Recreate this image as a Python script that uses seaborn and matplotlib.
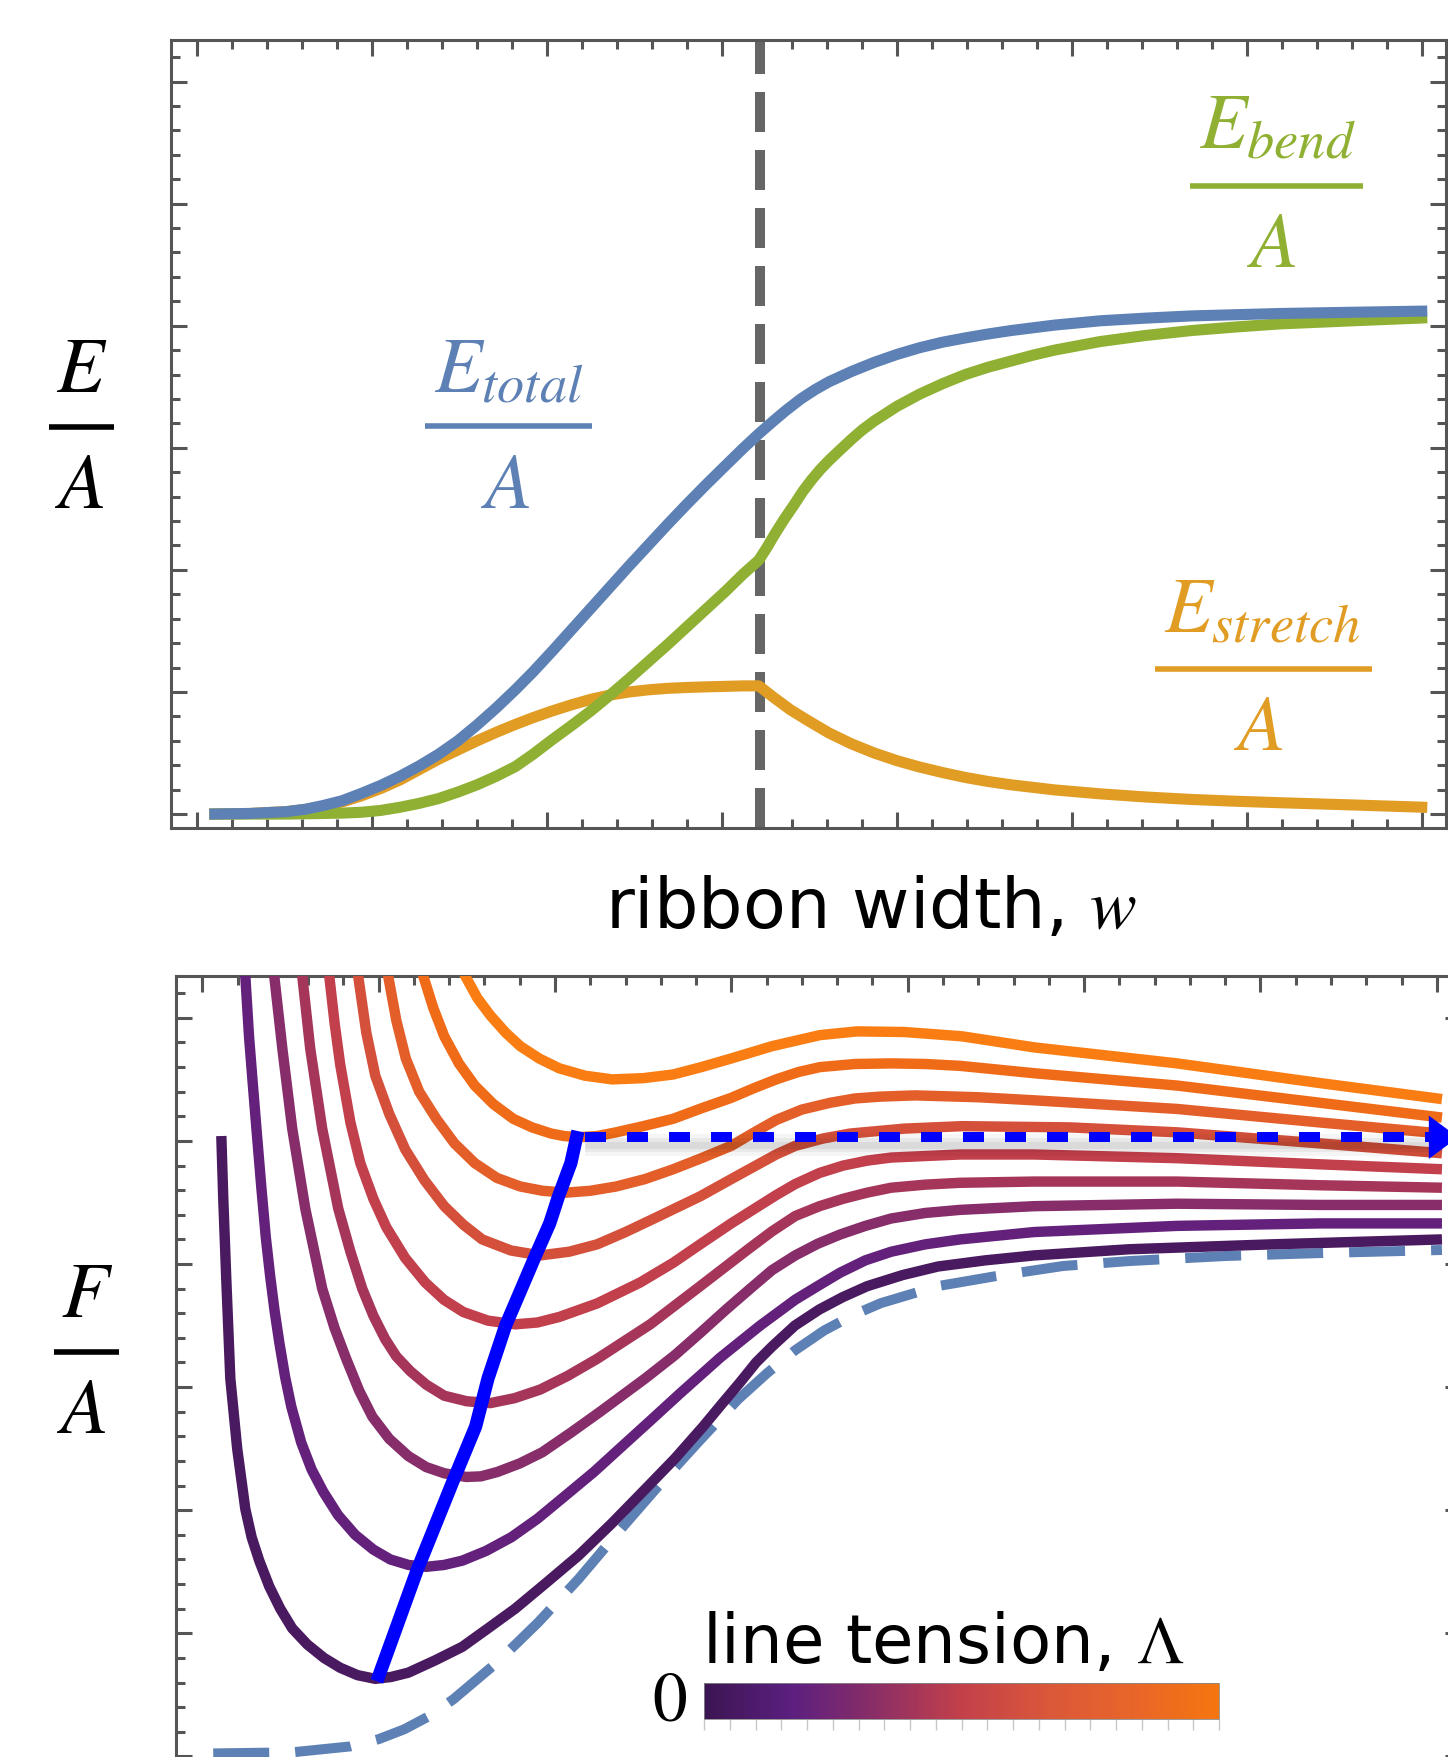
import numpy as np
import matplotlib
matplotlib.use("Agg")
import matplotlib.pyplot as plt
import matplotlib as mpl
import seaborn as sns
from matplotlib.lines import Line2D
from matplotlib.colors import LinearSegmentedColormap, Normalize

sns.set_theme(style="white")
plt.rcParams["font.family"] = ["DejaVu Sans"]
plt.rcParams["mathtext.fontset"] = "stix"
plt.rcParams["text.color"] = "black"

# ---------------- top panel data (ribbon width w, energy per area) ----------------
w_total = [0.07, 0.30, 0.51, 0.62, 0.72, 0.83, 0.94, 1.05, 1.16, 1.27, 1.38, 1.49, 1.60, 1.71,
           1.82, 1.92, 2.03, 2.14, 2.25, 2.36, 2.47, 2.58, 2.69, 2.80, 2.91, 3.02, 3.12, 3.21,
           3.29, 3.36, 3.45, 3.53, 3.61, 3.74, 3.87, 4.00, 4.13, 4.26, 4.39, 4.52, 4.65, 4.90,
           5.16, 5.42, 5.68, 6.19, 6.60, 7.03]
E_total = [0.000, 0.005, 0.02, 0.04, 0.07, 0.11, 0.17, 0.235, 0.31, 0.395, 0.49, 0.60, 0.73, 0.87,
           1.02, 1.165, 1.335, 1.51, 1.685, 1.86, 2.035, 2.205, 2.375, 2.54, 2.70, 2.855, 2.995, 3.115,
           3.215, 3.30, 3.40, 3.475, 3.54, 3.625, 3.70, 3.765, 3.82, 3.865, 3.90, 3.932, 3.96, 4.005,
           4.04, 4.062, 4.08, 4.10, 4.11, 4.12]

w_bend = [0.07, 0.51, 0.72, 0.83, 0.94, 1.05, 1.16, 1.27, 1.38, 1.49, 1.60, 1.71, 1.82, 1.92,
          2.03, 2.14, 2.25, 2.36, 2.47, 2.58, 2.69, 2.80, 2.91, 3.02, 3.12, 3.21, 3.255, 3.30,
          3.355, 3.41, 3.46, 3.51, 3.56, 3.61, 3.68, 3.74, 3.80, 3.87, 4.00, 4.13, 4.26, 4.39,
          4.52, 4.65, 4.78, 4.90, 5.16, 5.42, 5.68, 5.94, 6.19, 6.60, 7.03]
E_bend = [0.0, 0.0, 0.005, 0.008, 0.015, 0.03, 0.056, 0.088, 0.127, 0.18, 0.24, 0.31, 0.39, 0.49,
          0.61, 0.725, 0.845, 0.975, 1.11, 1.25, 1.39, 1.535, 1.68, 1.825, 1.965, 2.08, 2.18, 2.29,
          2.415, 2.53, 2.64, 2.735, 2.82, 2.895, 2.99, 3.07, 3.145, 3.22, 3.34, 3.44, 3.525, 3.60,
          3.66, 3.71, 3.76, 3.80, 3.87, 3.92, 3.96, 3.99, 4.015, 4.04, 4.065]

w_stretch = [0.07, 0.30, 0.51, 0.62, 0.72, 0.83, 0.94, 1.05, 1.16, 1.27, 1.38, 1.49, 1.60, 1.71,
             1.82, 1.92, 2.03, 2.14, 2.25, 2.36, 2.47, 2.58, 2.69, 2.80, 2.91, 3.02, 3.12, 3.21,
             3.255, 3.30, 3.39, 3.48, 3.61, 3.74, 3.87, 4.00, 4.13, 4.26, 4.39, 4.52, 4.65, 4.90,
             5.16, 5.42, 5.68, 5.94, 6.19, 6.60, 7.03]
E_stretch = [0.0, 0.005, 0.02, 0.038, 0.065, 0.10, 0.15, 0.21, 0.28, 0.365, 0.45, 0.525, 0.60, 0.67,
             0.735, 0.79, 0.845, 0.895, 0.94, 0.975, 1.00, 1.018, 1.03, 1.037, 1.042, 1.046, 1.05, 1.05,
             1.00, 0.95, 0.855, 0.775, 0.665, 0.575, 0.50, 0.437, 0.385, 0.34, 0.30, 0.267, 0.24, 0.198,
             0.166, 0.14, 0.12, 0.105, 0.093, 0.075, 0.055]

w_transition = 3.215

# ---------------- bottom panel data (free energy per area, one curve per line tension) ----------------
F_w = [
    [0.108, 0.119, 0.136, 0.159, 0.198, 0.244, 0.28, 0.323, 0.38, 0.442, 0.51, 0.595, 0.69, 0.782,
     0.88, 0.981, 1.07, 1.168, 1.32, 1.474, 1.62, 1.774, 1.95, 2.132, 2.32, 2.511, 2.68, 2.840,
     2.95, 3.050, 3.14, 3.231, 3.36, 3.498, 3.63, 3.770, 3.97, 4.172, 4.44, 4.717, 5.255, 6.066, 7.029],
    [0.232, 0.244, 0.265, 0.286, 0.31, 0.335, 0.36, 0.385, 0.41, 0.437, 0.47, 0.505, 0.561, 0.62,
     0.686, 0.77, 0.867, 0.97, 1.066, 1.17, 1.27, 1.37, 1.474, 1.61, 1.752, 1.90, 2.052, 2.22,
     2.381, 2.55, 2.710, 2.937, 3.163, 3.362, 3.50, 3.617, 3.76, 3.906, 4.10, 4.297, 4.717, 5.527,
     6.338, 7.029],
    [0.385, 0.408, 0.454, 0.510, 0.584, 0.680, 0.75, 0.816, 0.89, 0.964, 1.06, 1.168, 1.27, 1.372,
     1.497, 1.58, 1.672, 1.80, 1.927, 2.09, 2.256, 2.511, 2.68, 2.823, 2.97, 3.107, 3.23, 3.362,
     3.49, 3.617, 3.76, 3.906, 4.10, 4.297, 4.717, 5.527, 6.338, 7.029],
    [0.544, 0.567, 0.612, 0.680, 0.771, 0.84, 0.907, 0.97, 1.037, 1.10, 1.179, 1.27, 1.372, 1.50,
     1.633, 1.77, 1.916, 2.07, 2.239, 2.540, 2.823, 3.095, 3.23, 3.362, 3.50, 3.634, 3.77, 3.906,
     4.10, 4.297, 4.717, 5.527, 6.338, 7.029],
    [0.697, 0.720, 0.75, 0.782, 0.84, 0.896, 0.97, 1.043, 1.15, 1.264, 1.37, 1.480, 1.62, 1.774,
     1.90, 2.024, 2.239, 2.483, 2.670, 2.823, 2.999, 3.254, 3.362, 3.50, 3.634, 3.77, 3.906, 4.297,
     4.717, 5.527, 6.338, 7.029],
    [0.862, 0.884, 0.93, 0.981, 1.06, 1.151, 1.26, 1.372, 1.48, 1.587, 1.75, 1.916, 2.08, 2.239,
     2.40, 2.562, 2.823, 3.050, 3.254, 3.362, 3.52, 3.673, 3.98, 4.308, 4.921, 5.527, 6.338, 7.029],
    [1.02, 1.054, 1.10, 1.154, 1.23, 1.327, 1.43, 1.545, 1.67, 1.803, 1.93, 2.063, 2.20, 2.347,
     2.51, 2.670, 2.83, 2.999, 3.13, 3.254, 3.40, 3.560, 3.70, 3.844, 4.042, 4.40, 4.717, 5.527,
     6.338, 7.029],
    [1.20, 1.253, 1.31, 1.372, 1.455, 1.545, 1.65, 1.763, 1.87, 1.978, 2.05, 2.132, 2.24, 2.347,
     2.50, 2.670, 2.83, 2.999, 3.13, 3.254, 3.38, 3.503, 3.70, 3.906, 4.10, 4.297, 4.717, 5.527,
     6.338, 7.029],
    [1.40, 1.491, 1.56, 1.633, 1.72, 1.803, 1.91, 2.024, 2.17, 2.324, 2.50, 2.670, 2.83, 2.999,
     3.231, 3.503, 3.713, 3.98, 4.308, 4.717, 5.527, 6.338, 7.029],
]
F_val = [
    [5.04, 4.53, 3.88, 3.07, 2.50, 2.01, 1.78, 1.59, 1.38, 1.20, 1.04, 0.91, 0.80, 0.72,
     0.66, 0.63, 0.645, 0.68, 0.78, 0.89, 1.04, 1.20, 1.41, 1.63, 1.89, 2.17, 2.42, 2.68,
     2.87, 3.04, 3.20, 3.33, 3.50, 3.63, 3.73, 3.82, 3.91, 3.98, 4.03, 4.07, 4.12, 4.16, 4.20],
    [6.64, 6.34, 5.85, 5.47, 5.05, 4.62, 4.22, 3.90, 3.62, 3.36, 3.08, 2.84, 2.55, 2.33,
     2.15, 1.96, 1.80, 1.68, 1.60, 1.555, 1.54, 1.555, 1.59, 1.67, 1.78, 1.93, 2.11, 2.31,
     2.52, 2.74, 2.95, 3.24, 3.50, 3.71, 3.83, 3.93, 4.03, 4.10, 4.16, 4.20, 4.26, 4.31,
     4.33, 4.33],
    [6.64, 6.34, 5.75, 5.10, 4.45, 3.80, 3.48, 3.23, 2.97, 2.76, 2.58, 2.44, 2.35, 2.30,
     2.27, 2.275, 2.31, 2.38, 2.47, 2.63, 2.80, 3.07, 3.26, 3.44, 3.63, 3.80, 3.95, 4.07,
     4.165, 4.24, 4.31, 4.37, 4.415, 4.44, 4.47, 4.49, 4.48, 4.48],
    [6.64, 6.34, 5.75, 5.10, 4.45, 4.10, 3.80, 3.58, 3.39, 3.25, 3.13, 3.02, 2.93, 2.885,
     2.87, 2.91, 2.98, 3.09, 3.23, 3.51, 3.82, 4.12, 4.265, 4.39, 4.47, 4.53, 4.58, 4.62,
     4.645, 4.66, 4.67, 4.67, 4.64, 4.62],
    [6.64, 6.34, 5.96, 5.62, 5.15, 4.82, 4.53, 4.30, 4.05, 3.85, 3.71, 3.61, 3.54, 3.51,
     3.525, 3.57, 3.68, 3.85, 4.01, 4.16, 4.33, 4.56, 4.65, 4.74, 4.80, 4.84, 4.865, 4.89,
     4.89, 4.86, 4.81, 4.77],
    [6.64, 6.34, 5.88, 5.53, 5.22, 4.93, 4.68, 4.47, 4.32, 4.20, 4.11, 4.07, 4.10, 4.16,
     4.26, 4.37, 4.55, 4.73, 4.89, 4.96, 5.02, 5.06, 5.10, 5.12, 5.11, 5.07, 4.98, 4.90],
    [6.64, 6.34, 5.98, 5.67, 5.40, 5.18, 4.98, 4.82, 4.70, 4.63, 4.595, 4.58, 4.595, 4.63,
     4.69, 4.77, 4.86, 4.96, 5.07, 5.17, 5.255, 5.31, 5.345, 5.36, 5.37, 5.355, 5.33, 5.26,
     5.15, 5.06],
    [6.64, 6.34, 6.08, 5.85, 5.63, 5.45, 5.30, 5.18, 5.11, 5.06, 5.04, 5.03, 5.04, 5.07,
     5.12, 5.18, 5.265, 5.35, 5.43, 5.50, 5.56, 5.60, 5.625, 5.63, 5.625, 5.61, 5.55, 5.45,
     5.31, 5.19],
    [6.64, 6.34, 6.16, 6.02, 5.88, 5.77, 5.67, 5.59, 5.53, 5.50, 5.51, 5.54, 5.60, 5.67,
     5.77, 5.86, 5.89, 5.885, 5.85, 5.76, 5.63, 5.47, 5.34],
]

# zero-tension reference curve (dashed)
w_ref = [0.062, 0.510, 0.839, 1.00, 1.145, 1.29, 1.423, 1.672, 1.905, 2.132, 2.358, 2.585, 2.812,
         3.039, 3.203, 3.362, 3.526, 3.69, 3.849, 4.172, 4.501, 4.881, 5.255, 5.799, 6.338, 7.029]
F_ref = [0.024, 0.033, 0.081, 0.14, 0.220, 0.33, 0.463, 0.764, 1.089, 1.439, 1.821, 2.195, 2.553,
         2.902, 3.114, 3.30, 3.46, 3.585, 3.683, 3.821, 3.902, 3.984, 4.024, 4.065, 4.089, 4.114]

# locus of minima (thick blue) and the jump (dotted arrow)
w_min = [0.99, 1.22, 1.42, 1.55, 1.62, 1.72, 1.89, 1.97, 2.02, 2.09, 2.13]
F_min = [0.61, 1.52, 2.23, 2.68, 3.07, 3.50, 4.07, 4.33, 4.55, 4.82, 5.08]
w_jump = [2.17, 6.96]
F_jump = 5.03
w_arrow_tip = 7.12

# ---------------- styles ----------------
C_BLUE, C_ORANGE, C_GREEN = "#5e81b5", "#e19c24", "#8fb032"
curve_colors = ["#4a1a60", "#63217c", "#862d6a", "#a5365a", "#c23f4c",
                "#d4503a", "#e35e28", "#f06b18", "#f97d12"]
cbar_colors = ["#3b1552", "#5b1f7f", "#8b2e66", "#c3404a", "#da573a", "#e8652a", "#f5760f"]
FRAME = "#555555"

W, H = 1448, 1758
fig = plt.figure(figsize=(W / 100, H / 100), dpi=100)
ax1 = fig.add_axes([171 / W, 1 - 829 / H, (1446 - 171) / W, (829 - 41) / H])
ax2 = fig.add_axes([176 / W, 1 - 1782 / H, (1461 - 176) / W, (1782 - 977) / H])


def style(ax, ymin):
    ax.set_xlim(-0.149, 7.137)
    ax.set_ylim(ymin, 6.34)
    ax.grid(False)
    for s in ax.spines.values():
        s.set_visible(True)
        s.set_color(FRAME)
        s.set_linewidth(2.2)
    ax.set_xticks(np.arange(0, 8, 1))
    ax.set_xticks(np.arange(0, 7.15, 0.2), minor=True)
    ax.set_yticks(np.arange(0, 7, 1))
    ax.set_yticks(np.arange(0, 6.35, 0.2), minor=True)
    ax.tick_params(which="both", direction="in", top=True, right=True, bottom=True, left=True,
                   labelbottom=False, labelleft=False, color=FRAME, width=2.2)
    ax.tick_params(which="major", length=11.5)
    ax.tick_params(which="minor", length=6.8)
    ax.set_xlabel("")
    ax.set_ylabel("")


def draw(ax, x, y, color, lw, z, dashes=None):
    sns.lineplot(x=x, y=y, ax=ax, color=color, linewidth=lw, sort=False,
                 estimator=None, legend=False, zorder=z)
    ln = ax.lines[-1]
    ln.set_solid_capstyle("butt")
    ln.set_solid_joinstyle("round")
    if dashes is not None:
        ln.set_dashes(dashes)
        ln.set_dash_capstyle("butt")
    return ln


# ---------------- top panel ----------------
style(ax1, -0.114)
ax1.axvline(w_transition, color="#666666", lw=7.2, dashes=(4.0, 1.8), zorder=1)
draw(ax1, w_stretch, E_stretch, C_ORANGE, 8.0, 2)
draw(ax1, w_bend, E_bend, C_GREEN, 8.0, 3)
draw(ax1, w_total, E_total, C_BLUE, 8.0, 4)

# ---------------- bottom panel ----------------
style(ax2, -0.2)
draw(ax2, w_ref, F_ref, C_BLUE, 7.2, 2, dashes=(5.6, 2.6))
for xs, ys, c in zip(F_w, F_val, curve_colors):
    draw(ax2, xs, ys, c, 7.5, 3)

# soft shadow under the jump line
for lw_s, a in [(16, 0.04), (10, 0.05), (5, 0.06)]:
    draw(ax2, w_jump, [F_jump - 0.06] * 2, "black", lw_s, 4).set_alpha(a)
draw(ax2, w_jump, [F_jump] * 2, "#0000ff", 7.2, 5, dashes=(2.1, 2.1))
draw(ax2, w_min, F_min, "#0000ff", 9.5, 6)
ax2.annotate("", xy=(w_arrow_tip, F_jump), xytext=(w_jump[-1], F_jump),
             arrowprops=dict(arrowstyle="-|>,head_length=1.05,head_width=0.78",
                             mutation_scale=20, color="#0000ff", lw=0,
                             shrinkA=0, shrinkB=0), zorder=7)

# ---------------- colorbar ----------------
cmap = LinearSegmentedColormap.from_list("tension", cbar_colors)
cax = fig.add_axes([704 / W, 1 - 1720 / H, (1219 - 704) / W, 36 / H])
cb = fig.colorbar(mpl.cm.ScalarMappable(norm=Normalize(0, 1), cmap=cmap), cax=cax,
                  orientation="horizontal")
cb.outline.set_linewidth(0.6)
cb.outline.set_edgecolor("#888888")
cb.set_ticks(np.linspace(0, 1, 21))
cb.ax.set_xticklabels([])
cb.ax.tick_params(length=8, width=1, color="#c8c8c8", direction="out")


# ---------------- text ----------------
def ftext(x, y, s, **kw):
    fig.text(x / W, 1 - y / H, s, **kw)


def frac(xn, yn, xb, half, yb, xa, ya, num, color, size=56):
    ftext(xn, yn, num, ha="center", va="baseline", fontsize=size, color=color)
    ftext(xa, ya, r"$A$", ha="center", va="baseline", fontsize=size, color=color)
    fig.add_artist(Line2D([(xb - half) / W, (xb + half) / W], [1 - yb / H] * 2,
                          transform=fig.transFigure, color=color, lw=4.0,
                          solid_capstyle="butt"))


frac(82, 392, 81.5, 32.5, 428, 80, 508, r"$E$", "black")
frac(509, 392, 508.5, 83.5, 427, 506, 508, r"$E_{total}$", C_BLUE)
frac(1277, 148, 1276.5, 86.5, 187, 1272, 267, r"$E_{bend}$", C_GREEN)
frac(1262, 632, 1263.5, 108.5, 670, 1259, 750, r"$E_{stretch}$", C_ORANGE)
frac(87, 1317, 86.5, 32.5, 1353, 82, 1433, r"$F$", "black")

ftext(871, 928, r"ribbon width, $w$", ha="center", va="baseline", fontsize=50.5, color="black")
ftext(702, 1663, r"line tension, $\Lambda$", ha="left", va="baseline", fontsize=48.5, color="black")
ftext(670, 1704, "0", ha="center", va="center", fontsize=50, family="STIXGeneral", color="black")

fig.savefig("out.png", dpi=100)
